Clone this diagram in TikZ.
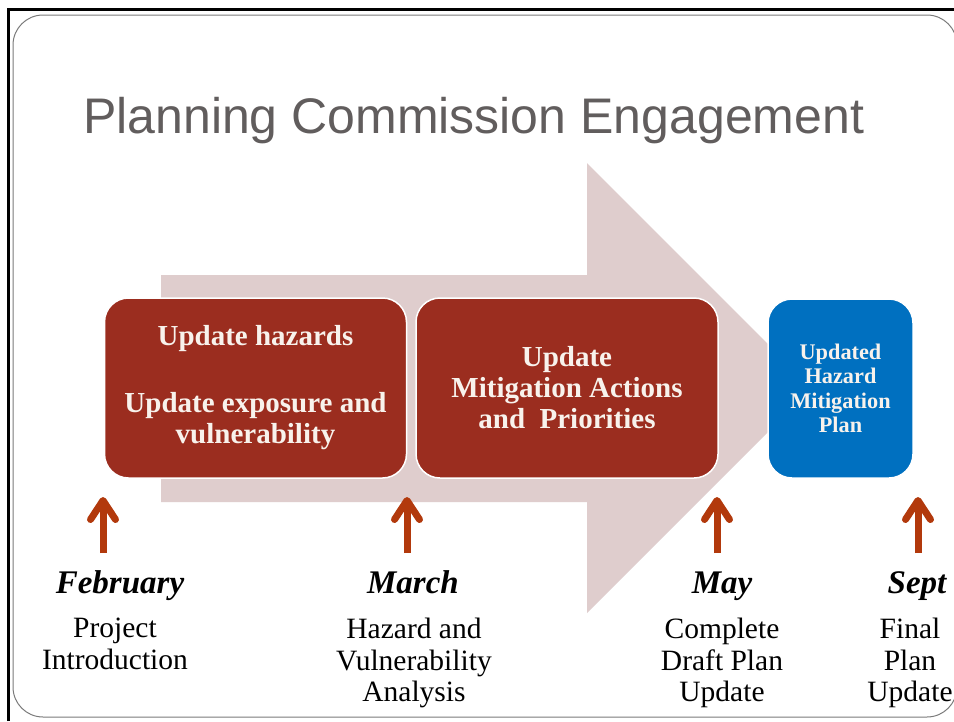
\documentclass[tikz,border=0pt]{standalone}
\usepackage{fontspec}
\setmainfont{Liberation Serif}
\newfontfamily\titlefont{Liberation Sans}
\usepackage{tikz}
\usetikzlibrary{arrows.meta, positioning}

\definecolor{boxred}{HTML}{9B2D1F}
\definecolor{boxblue}{HTML}{0070C0}
\definecolor{flowbg}{HTML}{DFCDCD}
\definecolor{tickred}{HTML}{B2390C}
\definecolor{titlegray}{HTML}{615D5D}
\definecolor{boxtext}{HTML}{F8F2EC}
\definecolor{framegray}{HTML}{7A7A7A}

\begin{document}
\begin{tikzpicture}[
    x=1pt, y=-1pt,
    stepbox/.style={
        draw=white, line width=1.5pt, rounded corners=24pt,
        fill=boxred, text=boxtext, inner sep=0pt,
        minimum width=302pt, minimum height=180pt,
        font=\fontsize{29}{31}\selectfont\bfseries, align=center
    },
    planbox/.style={
        draw=white, line width=1.5pt, rounded corners=24pt,
        fill=boxblue, text=boxtext, inner sep=0pt,
        minimum width=145pt, minimum height=179pt,
        font=\fontsize{22.3}{24.5}\selectfont\bfseries, align=center
    },
    month/.style={anchor=base, inner sep=0pt, font=\fontsize{33}{36}\selectfont\bfseries\itshape},
    desc/.style={anchor=north, inner sep=0pt, align=center, font=\fontsize{29.5}{31.5}\selectfont},
    tick/.style={tickred, line width=7pt, -{Straight Barb[round, length=19pt, width=25pt]}}
]

\useasboundingbox (0,0) rectangle (954,721);
\fill[white] (0,0) rectangle (954,721);

\draw[line width=3pt] (8,721) -- (8,9.5) -- (954,9.5);
\draw[framegray, line width=1pt, rounded corners=30pt] (13,15) rectangle (957,717);

\node[anchor=base west, inner sep=0pt, text=titlegray, font=\titlefont\fontsize{50}{54}\selectfont]
    (title) at (83,133) {Planning Commission Engagement};

\fill[flowbg] (161,275) -- (587,275) -- (587,163) -- (812,388)
    -- (587,613) -- (587,502) -- (161,502) -- cycle;

\node[stepbox] (hazards) at (255.5,388) {Update hazards\\[36pt]Update exposure and\\vulnerability};
\node[stepbox] (actions) at (567,388) {Update\\Mitigation Actions\\and\ \ Priorities};
\node[planbox] (plan) at (840.5,388.5) {Updated\\Hazard\\Mitigation\\Plan};

\node[month] (feb)   at (120,593) {February};
\node[month] (march) at (413,593) {March};
\node[month] (may)   at (722,593) {May};
\node[month] (sept)  at (917,593) {Sept};

\node[desc] (febtxt)   at (115,618) {Project\\Introduction};
\node[desc] (marchtxt) at (414,618) {Hazard and\\Vulnerability\\Analysis};
\node[desc] (maytxt)   at (722,618) {Complete\\Draft Plan\\Update};
\node[desc] (septtxt)  at (910,618) {Final\\Plan\\Update};

\coordinate (febbot)   at (103,553);
\coordinate (febtop)   at (103,497);
\coordinate (marchbot) at (407,553);
\coordinate (marchtop) at (407,497);
\coordinate (maybot)   at (717,553);
\coordinate (maytop)   at (717,497);
\coordinate (septbot)  at (918,553);
\coordinate (septtop)  at (918,497);

\draw[tick] (febbot) -- (febtop);
\draw[tick] (marchbot) -- (marchtop);
\draw[tick] (maybot) -- (maytop);
\draw[tick] (septbot) -- (septtop);

\end{tikzpicture}
\end{document}
